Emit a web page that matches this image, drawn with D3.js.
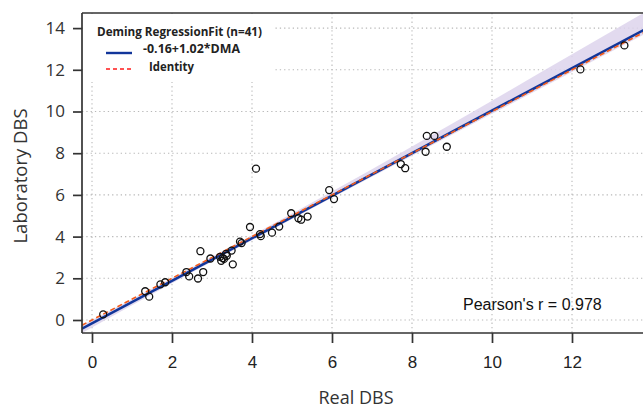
<!doctype html>
<html lang="en">
<head>
  <meta charset="utf-8">
  <title>Deming regression</title>
  <style type="text/css">
    body{ margin:0; background:#fff; }
    text{ font-family: "Liberation Sans", Arial, sans-serif; fill:#222; }
    .grid line{ stroke:#b8b8b8; stroke-dasharray:1.3,3; stroke-width:1.1; }
    .axis path, .axis line{ stroke:#333; stroke-width:1.7; }
  </style>
</head>
<body>
  <div id="vis"></div>
  <script src="https://cdn.jsdelivr.net/npm/d3@7"></script>
  <script type="text/javascript">

    // measured points: real DBS (x) vs laboratory DBS (y)
    var realDBS = [0.28,1.33,1.43,1.71,1.83,2.36,2.43,2.65,2.78,2.71,
                   2.96,3.20,3.23,3.27,3.30,3.35,3.37,3.49,3.52,3.70,
                   3.74,3.95,4.10,4.20,4.22,4.50,4.68,4.98,5.16,5.23,
                   5.39,5.93,6.05,7.72,7.83,8.34,8.37,8.56,8.87,12.21,13.31];
    var labDBS  = [0.27,1.38,1.12,1.71,1.81,2.30,2.09,1.99,2.30,3.30,
                   2.95,3.03,2.84,2.97,2.93,3.17,3.08,3.33,2.67,3.76,
                   3.69,4.46,7.26,4.12,4.02,4.19,4.48,5.12,4.88,4.81,
                   4.96,6.23,5.80,7.48,7.28,8.07,8.83,8.83,8.31,12.02,13.17];

    var fitIntercept = -0.16, fitSlope = 1.02;

    // confidence band
    var bandX     = [-0.3, 2, 4, 6, 8, 10, 12, 14];
    var bandUpper = [-0.30, 2.02, 4.06, 6.16, 8.32, 10.52, 12.74, 14.96];
    var bandLower = [-0.68, 1.76, 3.82, 5.86, 7.88, 9.89, 11.89, 13.9];

    var xTicks = [0,2,4,6,8,10,12];
    var xGrid  = [0,2,4,6,8,10,12,14];
    var yTicks = [0,2,4,6,8,10,12,14];

    var legendTitle = 'Deming RegressionFit (n=41)';
    var legendLabels = ['-0.16+1.02*DMA', 'Identity'];
    var pearson = "Pearson's r = 0.978";

    var width = 643, height = 409;
    var pLeft = 82, pTop = 13, pRight = 680, pBottom = 333;

    var x = d3.scaleLinear().domain([0, 14]).range([92, 652]);
    var y = d3.scaleLinear().domain([0, 14]).range([320, 28.1]);
    var xMin = x.invert(pLeft), xMax = x.invert(pRight);

    var svg = d3.select('#vis').append('svg')
      .attr('width', width).attr('height', height);

    svg.append('defs').append('clipPath').attr('id','plotclip')
      .append('rect').attr('x', pLeft).attr('y', pTop)
      .attr('width', pRight-pLeft).attr('height', pBottom-pTop);

    var plot = svg.append('g').attr('clip-path','url(#plotclip)');

    // grid
    var grid = plot.append('g').attr('class','grid');
    grid.selectAll('.gx').data(xGrid).enter().append('line')
      .attr('x1', function(d){ return x(d); }).attr('x2', function(d){ return x(d); })
      .attr('y1', pTop).attr('y2', pBottom);
    grid.selectAll('.gy').data(yTicks).enter().append('line')
      .attr('x1', pLeft).attr('x2', pRight)
      .attr('y1', function(d){ return y(d); }).attr('y2', function(d){ return y(d); });

    // band
    var area = d3.area().curve(d3.curveMonotoneX)
      .x(function(d,i){ return x(bandX[i]); })
      .y0(function(d,i){ return y(bandLower[i]); })
      .y1(function(d,i){ return y(bandUpper[i]); });
    plot.append('path').attr('d', area(bandX))
      .style('fill','#ddd4ec').style('opacity',0.85);

    // fit + identity
    plot.append('line')
      .attr('x1', x(xMin)).attr('y1', y(fitIntercept + fitSlope*xMin))
      .attr('x2', x(xMax)).attr('y2', y(fitIntercept + fitSlope*xMax))
      .style('stroke','#12369a').style('stroke-width',2.6);
    plot.append('line')
      .attr('x1', x(xMin)).attr('y1', y(xMin))
      .attr('x2', x(xMax)).attr('y2', y(xMax))
      .style('stroke','#f25c1c').style('stroke-width',1.6)
      .style('stroke-dasharray','5,3');

    // points
    plot.selectAll('circle').data(realDBS).enter().append('circle')
      .attr('cx', function(d){ return x(d); })
      .attr('cy', function(d,i){ return y(labDBS[i]); })
      .attr('r', 3.5)
      .style('fill','none').style('stroke','#111').style('stroke-width',1.3);

    // legend
    var lg = svg.append('g');
    lg.append('rect').attr('x', pLeft+1).attr('y', pTop+1)
      .attr('width', 190).attr('height', 68).style('fill','#fff');
    lg.append('text').attr('x', 97).attr('y', 36)
      .attr('textLength', 165).attr('lengthAdjust','spacingAndGlyphs')
      .style('font-size','12.5px').style('font-weight','bold').style('font-family','"Open Sans", sans-serif')
      .text(legendTitle);
    lg.append('line').attr('x1',106).attr('x2',132).attr('y1',53).attr('y2',53)
      .style('stroke','#12369a').style('stroke-width',2.4);
    lg.append('line').attr('x1',106).attr('x2',132).attr('y1',69).attr('y2',69)
      .style('stroke','#ff1a1a').style('stroke-width',1.5).style('stroke-dasharray','4,3');
    lg.append('text').attr('x', 143).attr('y', 53)
      .attr('textLength', 97).attr('lengthAdjust','spacingAndGlyphs')
      .style('font-size','12.5px').style('font-weight','bold').style('font-family','"Open Sans", sans-serif')
      .text(legendLabels[0]);
    lg.append('text').attr('x', 149).attr('y', 71)
      .attr('textLength', 45).attr('lengthAdjust','spacingAndGlyphs')
      .style('font-size','12.5px').style('font-weight','bold').style('font-family','"Open Sans", sans-serif')
      .text(legendLabels[1]);

    // axes
    var xAxis = d3.axisBottom(x).tickValues(xTicks).tickSize(10).tickPadding(13);
    var gx = svg.append('g').attr('class','axis')
      .attr('transform','translate(0,'+pBottom+')').call(xAxis);
    gx.select('.domain').attr('d', 'M'+pLeft+',0H'+pRight);
    gx.selectAll('text').style('font-size','17px').style('fill','#222');

    var yAxis = d3.axisLeft(y).tickValues(yTicks).tickSize(9).tickPadding(8);
    var gy = svg.append('g').attr('class','axis')
      .attr('transform','translate('+pLeft+',0)').call(yAxis);
    gy.select('.domain').attr('d', 'M0,'+pTop+'V'+pBottom);
    gy.selectAll('text').style('font-size','17px').style('fill','#333')
      .style('font-family','"Open Sans", sans-serif');

    svg.append('line').attr('x1', pLeft).attr('x2', pRight).attr('y1', pTop).attr('y2', pTop)
      .style('stroke','#333').style('stroke-width',1.7);

    // labels
    svg.append('text').attr('x', 356).attr('y', 404)
      .attr('text-anchor','middle')
      .style('font-size','18px').style('font-family','"Open Sans", sans-serif').style('fill','#333')
      .text('Real DBS');
    svg.append('text')
      .attr('transform','translate(27,176) rotate(-90)')
      .attr('text-anchor','middle')
      .style('font-size','18.5px').style('font-family','"Open Sans", sans-serif').style('fill','#333')
      .text('Laboratory DBS');

    svg.append('text').attr('x', 463).attr('y', 310)
      .style('font-size','16px').style('fill','#111')
      .text(pearson);

  </script>
</body>
</html>
